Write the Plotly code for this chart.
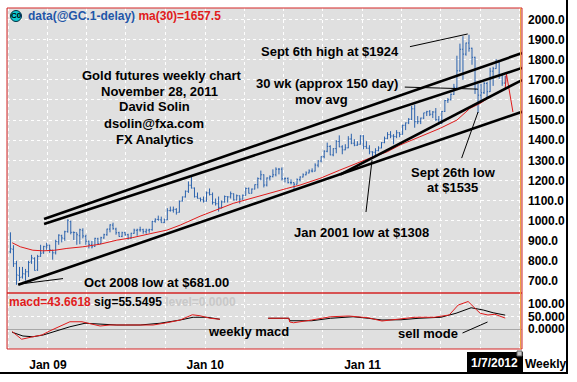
import plotly.graph_objects as go
import pandas as pd

# ---------------- data ----------------
first_week = "2008-10-06"
bar_open = [845, 858, 786, 728, 720, 735, 746, 795, 812, 755, 823, 840, 870,
            878, 853, 840, 895, 925, 912, 946, 995, 942, 940, 925, 952, 922, 898, 880, 872, 910, 886, 914, 930, 958, 978,
            958, 940, 922, 940, 930, 913, 937, 952, 954, 955, 945, 953, 955, 997, 1006, 1004, 990, 1004, 1050, 1052, 1056,
            1042, 1098, 1118, 1146, 1176, 1162, 1119, 1111, 1104,
            1097, 1138, 1130, 1090, 1084, 1066, 1093, 1120, 1118, 1134, 1103, 1124, 1107, 1126, 1160, 1136, 1157, 1179, 1209,
            1228, 1177, 1212, 1219, 1228, 1256, 1256, 1208, 1210, 1189, 1189, 1181, 1204, 1217, 1228, 1237, 1247, 1246, 1276,
            1297, 1318, 1345, 1369, 1327, 1358, 1394, 1367, 1352, 1362, 1406, 1385, 1375, 1380,
            1421, 1369, 1360, 1342, 1340, 1348, 1361, 1388, 1409, 1428, 1421, 1418, 1437, 1429, 1474, 1486, 1504, 1556, 1492,
            1492, 1510, 1536, 1542, 1529, 1540, 1502, 1483, 1543, 1597, 1601, 1628, 1663, 1745, 1852, 1828, 1883, 1857, 1812,
            1652, 1624, 1636, 1682, 1641, 1743, 1756, 1788, 1724, 1684]
bar_high = [942, 878, 800, 770, 770, 760, 800, 830, 818, 830, 880, 875, 890,
            880, 855, 905, 932, 930, 950, 1007, 1000, 946, 940, 960, 962, 930, 900, 900, 915, 915, 920, 935, 960, 982, 990,
            965, 945, 945, 945, 935, 940, 960, 960, 970, 960, 960, 960, 1000, 1012, 1025, 1020, 1010, 1062, 1070, 1070, 1062,
            1100, 1120, 1150, 1195, 1226, 1165, 1140, 1115, 1120,
            1145, 1160, 1140, 1110, 1120, 1100, 1125, 1120, 1145, 1135, 1130, 1125, 1130, 1165, 1165, 1160, 1180, 1215, 1249,
            1230, 1215, 1225, 1255, 1265, 1262, 1265, 1215, 1215, 1205, 1190, 1210, 1220, 1235, 1245, 1255, 1260, 1285, 1300,
            1320, 1350, 1388, 1375, 1360, 1400, 1424, 1375, 1380, 1420, 1432, 1405, 1395, 1425,
            1425, 1395, 1375, 1345, 1360, 1370, 1390, 1418, 1440, 1445, 1430, 1450, 1440, 1477, 1488, 1510, 1570, 1577, 1520,
            1512, 1536, 1546, 1550, 1545, 1560, 1520, 1545, 1600, 1610, 1632, 1680, 1820, 1880, 1917, 1885, 1924, 1860, 1815,
            1680, 1680, 1690, 1690, 1760, 1765, 1803, 1795, 1725, 1720]
bar_low = [838, 770, 681, 700, 712, 702, 720, 785, 752, 750, 820, 835, 855,
           840, 806, 832, 880, 892, 900, 940, 932, 903, 880, 883, 912, 880, 862, 862, 870, 880, 885, 910, 925, 942, 955,
           930, 920, 918, 925, 905, 910, 935, 925, 945, 935, 935, 940, 950, 990, 1000, 990, 988, 1003, 1045, 1040, 1030,
           1040, 1095, 1115, 1138, 1160, 1115, 1110, 1095, 1090,
           1095, 1125, 1080, 1075, 1045, 1060, 1090, 1090, 1110, 1100, 1100, 1085, 1105, 1125, 1135, 1135, 1155, 1160, 1200,
           1165, 1170, 1200, 1215, 1220, 1230, 1200, 1190, 1185, 1180, 1157, 1180, 1195, 1215, 1225, 1235, 1240, 1245, 1265,
           1290, 1310, 1340, 1325, 1320, 1335, 1365, 1330, 1350, 1360, 1380, 1370, 1372, 1378,
           1355, 1358, 1330, 1308, 1320, 1345, 1360, 1385, 1405, 1410, 1380, 1410, 1415, 1428, 1450, 1480, 1500, 1462, 1480,
           1480, 1505, 1520, 1520, 1510, 1496, 1478, 1480, 1540, 1585, 1598, 1625, 1660, 1740, 1700, 1820, 1840, 1775, 1630,
           1535, 1600, 1630, 1605, 1640, 1670, 1755, 1705, 1670, 1680]
bar_close = [860, 786, 730, 718, 736, 746, 792, 815, 752, 822, 838, 872, 878,
             855, 840, 897, 928, 914, 945, 1002, 942, 941, 930, 955, 924, 898, 882, 870, 912, 885, 915, 930, 958, 979, 960,
             940, 921, 940, 930, 913, 937, 953, 954, 955, 946, 953, 956, 996, 1006, 1004, 990, 1004, 1050, 1052, 1056, 1040,
             1096, 1118, 1146, 1176, 1162, 1119, 1111, 1104, 1097,
             1138, 1130, 1090, 1084, 1066, 1093, 1120, 1118, 1134, 1103, 1124, 1107, 1126, 1160, 1136, 1157, 1179, 1209, 1228,
             1177, 1212, 1219, 1228, 1256, 1256, 1208, 1210, 1189, 1189, 1181, 1204, 1217, 1228, 1237, 1247, 1246, 1276, 1297,
             1318, 1345, 1369, 1327, 1358, 1394, 1367, 1352, 1362, 1406, 1385, 1375, 1380, 1421,
             1369, 1360, 1342, 1340, 1348, 1361, 1388, 1409, 1428, 1421, 1418, 1437, 1429, 1474, 1486, 1504, 1556, 1492, 1492,
             1510, 1536, 1542, 1529, 1540, 1502, 1483, 1543, 1597, 1601, 1628, 1663, 1745, 1852, 1828, 1883, 1857, 1812, 1652,
             1624, 1636, 1682, 1641, 1743, 1756, 1788, 1724, 1684, 1715]

ma_dates = ["2008-10-10", "2008-10-29", "2008-11-27", "2008-12-21", "2009-01-17", "2009-02-14", "2009-03-23",
            "2009-05-02", "2009-06-10", "2009-07-17", "2009-08-28", "2009-10-04", "2009-11-04", "2009-11-27",
            "2009-12-20", "2010-03-07", "2010-05-24", "2010-07-09", "2010-08-09", "2010-09-24", "2010-11-09",
            "2010-12-26", "2011-01-25", "2011-02-27", "2011-03-29", "2011-05-14", "2011-06-30", "2011-08-08",
            "2011-09-07", "2011-10-01", "2011-10-24", "2011-11-16", "2011-11-28", "2011-12-01", "2011-12-16"]
ma_values = [890, 870, 853, 850, 853, 862, 870, 883, 903, 916, 936, 953, 978, 1002, 1022, 1086, 1135, 1160, 1177,
             1210, 1251, 1293, 1317, 1342, 1376, 1417, 1459, 1500, 1558, 1583, 1616, 1641, 1657.5, 1728, 1540]

macd_dates = ["2008-10-10", "2008-11-01", "2008-11-27", "2008-12-18", "2009-01-06", "2009-01-29", "2009-02-21",
              "2009-03-21", "2009-04-09", "2009-05-02", "2009-05-25", "2009-06-24", "2009-08-03", "2009-09-02",
              "2009-10-04", "2009-11-04", "2009-12-02", "2009-12-20", "2010-01-12", "2010-02-04", "2010-04-01",
              "2010-05-27", "2010-07-14", "2010-07-16", "2010-07-25", "2010-09-05", "2010-10-19", "2010-11-30",
              "2011-01-14", "2011-02-15", "2011-03-22", "2011-05-03", "2011-06-16", "2011-07-21", "2011-08-11",
              "2011-09-03", "2011-09-23", "2011-10-01", "2011-10-19", "2011-11-04", "2011-11-28"]
macd_values = [-10, -41, -31, -24, -7, 12, 29, 29, 20, 12, 16, 16, 16, 16, 25, 36, 57, 53, 43, 39, None,
               43, 43, 28, 25, 36, 49, 52, 45, 32, 39, 47, 47, 56, 96, 110, 76, 63, 56, 59, 43.66]

sig_dates = ["2008-10-10", "2008-11-04", "2008-11-27", "2008-12-21", "2009-01-22", "2009-02-21", "2009-03-28",
             "2009-05-02", "2009-06-10", "2009-08-03", "2009-09-18", "2009-11-04", "2009-12-04", "2010-01-05",
             "2010-02-04", "2010-04-01", "2010-05-27", "2010-07-14", "2010-07-16", "2010-09-05", "2010-10-19",
             "2010-12-10", "2011-01-14", "2011-02-15", "2011-03-31", "2011-05-12", "2011-07-02", "2011-08-06",
             "2011-09-10", "2011-10-08", "2011-10-31", "2011-11-28"]
sig_values = [-13, -28, -31, -24, -7, 9, 23, 19, 16, 16, 23, 36, 47, 47, 39, None, 43, 43, 33, 33, 43, 49, 43, 36,
              37, 43, 47, 63, 85, 76, 65, 55.55]

# hand-drawn trend lines: (start date, start price, end date, end price)
trend_lines = [
    ("2008-10-24", 681, "2012-01-06", 1541),
    ("2008-12-23", 1008, "2012-01-06", 1833),
    ("2008-12-23", 983, "2012-01-06", 1759),
    ("2010-11-10", 1229, "2012-01-06", 1699),
]
pointer_lines = [
    ("2008-10-24", 684, "2009-02-05", 712),
    ("2011-01-23", 1301, "2011-01-09", 1043),
    ("2011-09-26", 1540, "2011-08-19", 1311),
    ("2011-04-21", 1865, "2011-09-02", 1928),
    ("2011-04-09", 1664, "2011-09-25", 1654),
]
macd_pointer = ("2011-08-21", -16, "2011-10-18", 28)

year_ticks = ["2009-01-01", "2010-01-01", "2011-01-01"]
year_labels = ["Jan 09", "Jan 10", "Jan 11"]
price_ticks = list(range(700, 2001, 100))
macd_ticks = [0, 50, 100]
macd_tick_text = ["0.0000", "50.000", "100.00"]

# ---------------- layout helpers (pixel geometry) ----------------
W, H = 577, 382
L, R, T, B = 7, 522, 8, 349
SPLIT = 293
def px(x):
    return (x - L) / (R - L)
def py(y):
    return (B - y) / (B - T)

BLUE = "#2b62ad"
RED = "#e01b1b"
FRAME = "#d42525"
FONT = "Liberation Sans, Arial, sans-serif"

dates = pd.date_range(first_week, periods=len(bar_close), freq="W-MON")

fig = go.Figure()
fig.add_trace(go.Ohlc(x=dates, open=bar_open, high=bar_high, low=bar_low, close=bar_close,
                      increasing_line_color=BLUE, decreasing_line_color=BLUE,
                      line_width=1, tickwidth=0.35, xaxis="x", yaxis="y", showlegend=False,
                      hoverinfo="skip"))
fig.add_trace(go.Scatter(x=ma_dates, y=ma_values, mode="lines", line=dict(color=RED, width=1),
                         xaxis="x", yaxis="y", showlegend=False, hoverinfo="skip"))
for (d0, p0, d1, p1) in trend_lines:
    fig.add_trace(go.Scatter(x=[d0, d1], y=[p0, p1], mode="lines", line=dict(color="black", width=2.6),
                             xaxis="x", yaxis="y", showlegend=False, hoverinfo="skip"))
for (d0, p0, d1, p1) in pointer_lines:
    fig.add_trace(go.Scatter(x=[d0, d1], y=[p0, p1], mode="lines", line=dict(color="black", width=1),
                             xaxis="x", yaxis="y", showlegend=False, hoverinfo="skip"))

fig.add_trace(go.Scatter(x=sig_dates, y=sig_values, mode="lines", line=dict(color="black", width=1),
                         xaxis="x", yaxis="y2", showlegend=False, hoverinfo="skip"))
fig.add_trace(go.Scatter(x=macd_dates, y=macd_values, mode="lines", line=dict(color=RED, width=1),
                         xaxis="x", yaxis="y2", showlegend=False, hoverinfo="skip"))
fig.add_trace(go.Scatter(x=[macd_pointer[0], macd_pointer[2]], y=[macd_pointer[1], macd_pointer[3]],
                         mode="lines", line=dict(color="black", width=1),
                         xaxis="x", yaxis="y2", showlegend=False, hoverinfo="skip"))

split_paper = py(SPLIT)
p_top = 2000 + (19.5 - T) / 0.20115
p_bot = 700 - (SPLIT - 281) / 0.20115
m_top = (329 - SPLIT) / 0.25
m_bot = -(B - 329) / 0.25

grid = dict(showgrid=True, gridcolor="white", griddash="dot", gridwidth=1)
tickfont = dict(family=FONT, size=12, color="black", weight="bold")

fig.update_layout(
    width=W, height=H,
    margin=dict(l=L, r=W - R, t=T, b=H - B),
    paper_bgcolor="white", plot_bgcolor="#e0e0e0",
    font=dict(family=FONT),
    showlegend=False,
    xaxis=dict(type="date", range=["2008-09-28", "2012-01-06"], anchor="y2", domain=[0, 1],
               tickvals=year_ticks, ticktext=year_labels, ticks="", ticklabelstandoff=7,
               tickfont=tickfont, showline=False, zeroline=False,
               minor=dict(dtick="M3", tick0="2009-01-01", showgrid=True, gridcolor="white", griddash="dot"),
               rangeslider=dict(visible=False), **grid),
    yaxis=dict(domain=[split_paper, 1], range=[p_bot, p_top], side="right", anchor="x",
               tickvals=price_ticks, tickformat=".1f", ticks="", ticklabelstandoff=5,
               tickfont=tickfont, zeroline=False, showline=False, **grid),
    yaxis2=dict(domain=[0, split_paper], range=[m_bot, m_top], side="right", anchor="x",
                tickvals=macd_ticks, ticktext=macd_tick_text, ticks="", ticklabelstandoff=5,
                tickfont=tickfont, zeroline=True, zerolinecolor="#a8a8a8", zerolinewidth=1,
                showline=False, **grid),
)

shapes = [
    dict(type="rect", xref="paper", yref="paper", x0=0, x1=1, y0=split_paper, y1=1,
         line=dict(color=FRAME, width=1)),
    dict(type="rect", xref="paper", yref="paper", x0=0, x1=1, y0=0, y1=split_paper,
         line=dict(color=FRAME, width=1)),
    dict(type="line", xref="paper", yref="paper", x0=px(520.5), x1=px(520.5), y0=0, y1=1,
         line=dict(color="#f0a040", width=1)),
    dict(type="line", xref="paper", yref="paper", x0=px(567), x1=px(567), y0=py(373), y1=py(0),
         line=dict(color="black", width=2)),
    dict(type="line", xref="paper", yref="paper", x0=px(0), x1=px(568), y0=py(373), y1=py(373),
         line=dict(color="black", width=2)),
    dict(type="circle", xref="paper", yref="paper", x0=px(10.5), x1=px(21.5), y0=py(21.5), y1=py(10.5),
         fillcolor="#10c8d0", line=dict(color="#003040", width=1)),
    dict(type="rect", xref="paper", yref="paper", x0=px(467), x1=px(523), y0=py(373), y1=py(352),
         fillcolor="black", line=dict(color="black", width=0)),
    dict(type="rect", xref="paper", yref="paper", x0=px(517), x1=px(522), y0=py(356), y1=py(351),
         fillcolor="#c8c8c8", line=dict(color="#606060", width=1)),
]
fig.update_layout(shapes=shapes)

def note(text, x, y, size=13, color="black", xanchor="center", bold=True):
    fig.add_annotation(text=text, x=px(x), y=py(y), xref="paper", yref="paper", showarrow=False,
                       xanchor=xanchor, yanchor="middle", borderpad=0,
                       font=dict(family=FONT, size=size, color=color, weight="bold" if bold else "normal"))

note("C0", 16, 16, size=8)
note("<span style='color:#1f56a8'>data(@GC.1-delay)</span> <span style='color:#e01b1b'>ma(30)=1657.5</span>",
     27, 16, size=12, xanchor="left")
note("<span style='color:#e01b1b'>macd=43.6618</span> <span style='color:black'>sig=55.5495</span> "
     "<span style='color:#c8c8c8'>level=0.0000</span>", 8, 302, size=12, xanchor="left")

for i, line in enumerate(["Gold futures weekly chart", "November 28, 2011", "David Solin",
                          "dsolin@fxa.com", "FX Analytics"]):
    note(line, [162, 159, 155, 154, 155][i], [75, 91, 107, 123, 139][i])

note("Sept 6th high at $1924", 330, 51)
note("30 wk (approx 150 day)", 327, 83)
note("mov avg", 321, 99)
note("Jan 2001 low at $1308", 361, 232)
note("Sept 26th low", 453, 172)
note("at $1535", 452, 187)
note("Oct 2008 low at $681.00", 156, 282)
note("weekly macd", 248, 331)
note("sell mode", 428, 333)
note("1/7/2012", 494, 363, size=12, color="white")
note("Weekly", 524, 364, size=12, xanchor="left")

fig.write_html("out.html", config={"displayModeBar": False, "staticPlot": True},
               post_script="document.body.style.margin='0';document.body.style.overflow='hidden';")
